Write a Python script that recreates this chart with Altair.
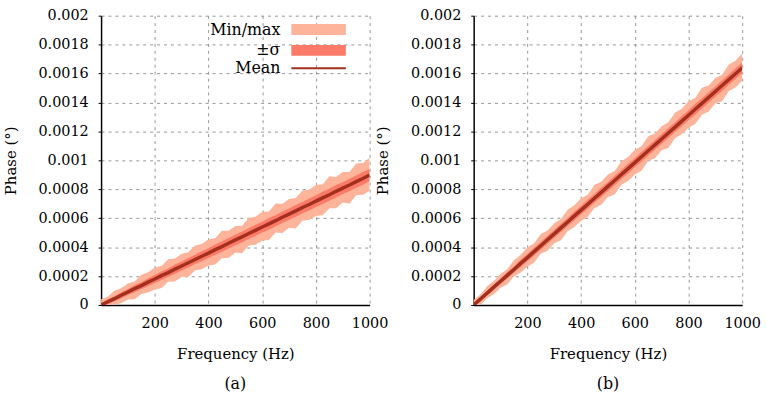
import altair as alt
import pandas as pd

# Frequency samples (Hz)
freq = [0, 25, 50, 75, 100, 125, 150, 175, 200, 225, 250, 275, 300, 325, 350,
        375, 400, 425, 450, 475, 500, 525, 550, 575, 600, 625, 650, 675, 700,
        725, 750, 775, 800, 825, 850, 875, 900, 925, 950, 975, 1000]

# Panel (a): mean, standard deviation, min and max of the phase (degrees)
a_mean = [0, 23e-6, 44e-6, 68e-6, 90e-6, 113e-6, 134e-6, 158e-6, 180e-6, 203e-6,
          224e-6, 248e-6, 270e-6, 292e-6, 315e-6, 337e-6, 359e-6, 383e-6, 404e-6,
          427e-6, 450e-6, 471e-6, 494e-6, 516e-6, 539e-6, 561e-6, 583e-6, 607e-6,
          628e-6, 651e-6, 674e-6, 695e-6, 718e-6, 741e-6, 762e-6, 786e-6, 808e-6,
          830e-6, 853e-6, 875e-6, 898e-6]
a_sd = [14e-6, 17e-6, 17e-6, 21e-6, 21e-6, 25e-6, 24e-6, 28e-6, 28e-6, 30e-6, 29e-6,
        32e-6, 31e-6, 33e-6, 32e-6, 35e-6, 34e-6, 36e-6, 35e-6, 37e-6, 36e-6, 38e-6,
        36e-6, 39e-6, 37e-6, 40e-6, 38e-6, 40e-6, 39e-6, 41e-6, 39e-6, 42e-6, 40e-6,
        42e-6, 41e-6, 43e-6, 41e-6, 43e-6, 42e-6, 44e-6, 43e-6]
a_min = [-36e-6, -24e-6, 4e-6, 12e-6, 38e-6, 40e-6, 77e-6, 86e-6, 108e-6, 117e-6,
         161e-6, 162e-6, 195e-6, 193e-6, 241e-6, 248e-6, 273e-6, 280e-6, 324e-6,
         326e-6, 363e-6, 358e-6, 411e-6, 416e-6, 444e-6, 449e-6, 502e-6, 498e-6,
         535e-6, 529e-6, 584e-6, 588e-6, 615e-6, 620e-6, 669e-6, 669e-6, 709e-6,
         700e-6, 758e-6, 762e-6, 790e-6]
a_max = [40e-6, 59e-6, 99e-6, 116e-6, 148e-6, 163e-6, 209e-6, 226e-6, 260e-6, 269e-6,
         316e-6, 321e-6, 354e-6, 364e-6, 412e-6, 422e-6, 455e-6, 461e-6, 514e-6,
         513e-6, 547e-6, 548e-6, 603e-6, 611e-6, 645e-6, 647e-6, 702e-6, 700e-6,
         733e-6, 740e-6, 792e-6, 797e-6, 832e-6, 833e-6, 890e-6, 885e-6, 919e-6,
         919e-6, 978e-6, 982e-6, 1018e-6]

# Panel (b)
b_mean = [0, 41e-6, 82e-6, 124e-6, 164e-6, 205e-6, 246e-6, 288e-6, 328e-6, 369e-6,
          410e-6, 451e-6, 492e-6, 533e-6, 574e-6, 616e-6, 656e-6, 697e-6, 738e-6,
          779e-6, 820e-6, 861e-6, 902e-6, 943e-6, 984e-6, 1025e-6, 1066e-6, 1107e-6,
          1148e-6, 1189e-6, 1230e-6, 1271e-6, 1312e-6, 1353e-6, 1394e-6, 1435e-6,
          1476e-6, 1517e-6, 1558e-6, 1599e-6, 1640e-6]
b_sd = [12e-6, 15e-6, 15e-6, 18e-6, 18e-6, 22e-6, 21e-6, 25e-6, 25e-6, 27e-6, 26e-6,
        28e-6, 27e-6, 29e-6, 28e-6, 30e-6, 29e-6, 31e-6, 30e-6, 32e-6, 31e-6, 33e-6,
        31e-6, 33e-6, 32e-6, 34e-6, 33e-6, 34e-6, 33e-6, 35e-6, 34e-6, 35e-6, 34e-6,
        36e-6, 35e-6, 36e-6, 35e-6, 37e-6, 36e-6, 37e-6, 36e-6]
b_min = [-32e-6, -1e-6, 47e-6, 75e-6, 119e-6, 142e-6, 197e-6, 225e-6, 265e-6, 293e-6,
         355e-6, 376e-6, 427e-6, 447e-6, 510e-6, 539e-6, 582e-6, 610e-6, 670e-6,
         693e-6, 746e-6, 764e-6, 832e-6, 858e-6, 903e-6, 929e-6, 997e-6, 1015e-6,
         1069e-6, 1086e-6, 1154e-6, 1181e-6, 1226e-6, 1251e-6, 1316e-6, 1337e-6,
         1393e-6, 1408e-6, 1479e-6, 1504e-6, 1550e-6]
b_max = [35e-6, 73e-6, 130e-6, 166e-6, 214e-6, 248e-6, 310e-6, 347e-6, 398e-6, 427e-6,
         491e-6, 515e-6, 565e-6, 595e-6, 658e-6, 689e-6, 738e-6, 763e-6, 832e-6,
         852e-6, 903e-6, 927e-6, 994e-6, 1023e-6, 1074e-6, 1098e-6, 1167e-6, 1185e-6,
         1236e-6, 1264e-6, 1330e-6, 1357e-6, 1408e-6, 1431e-6, 1501e-6, 1518e-6,
         1569e-6, 1591e-6, 1662e-6, 1689e-6, 1740e-6]

x_ticks = [200, 400, 600, 800, 1000]
y_ticks = [0, 0.0002, 0.0004, 0.0006, 0.0008, 0.001, 0.0012, 0.0014, 0.0016, 0.0018, 0.002]

band_names = ["Min/max", "±σ"]
band_colors = ["#FDB49A", "#FC7A68"]
mean_color = "#A3301E"

FONT = "DejaVu Serif"


def make_df(mean, sd, mn, mx):
    return pd.DataFrame({
        "freq": freq,
        "mean": mean,
        "sd_lo": [m - s for m, s in zip(mean, sd)],
        "sd_hi": [m + s for m, s in zip(mean, sd)],
        "min": mn,
        "max": mx,
        "band_mm": band_names[0],
        "band_sd": band_names[1],
        "kind": "Mean",
    })


def panel(df, label, show_legend):
    base = alt.Chart(df)
    x = alt.X("freq:Q", scale=alt.Scale(domain=[0, 1000], nice=False),
              axis=alt.Axis(values=x_ticks, format="d", title="Frequency (Hz)",
                            tickSize=0, labelPadding=12, titlePadding=16,
                            labelOverlap=False, labelFlush=False, tickCount=11))
    y_axis = alt.Axis(values=y_ticks, format="~g", title="Phase (°)", tickSize=3,
                      labelPadding=10, titlePadding=20, labelOverlap=False,
                      labelFlush=False, tickCount=12)
    yscale = alt.Scale(domain=[0, 0.002], nice=False)

    if show_legend:
        fill_legend = alt.Legend(
            title=None, orient="none", legendX=165, legendY=6,
            symbolType="M3.8,-1.1H14.8V1.1H3.8Z", symbolSize=100,
            symbolStrokeWidth=0, symbolOpacity=1,
            labelAlign="right", labelOffset=0, labelFont=FONT,
            labelFontSize=16, labelColor="black", rowPadding=5, padding=0)
        stroke_legend = alt.Legend(
            title=None, orient="none", legendX=165, legendY=45,
            symbolType="M3.8,0H14.8", symbolSize=100, symbolStrokeWidth=2,
            labelAlign="right", labelOffset=0, labelFont=FONT,
            labelFontSize=16, labelColor="black", padding=0)
    else:
        fill_legend = None
        stroke_legend = None

    fill_scale = alt.Scale(domain=band_names, range=band_colors)
    stroke_scale = alt.Scale(domain=["Mean"], range=[mean_color])

    minmax = base.mark_area(clip=True).encode(
        x=x,
        y=alt.Y("min:Q", scale=yscale, axis=y_axis),
        y2="max:Q",
        fill=alt.Fill("band_mm:N", scale=fill_scale, legend=fill_legend),
    )
    sigma = base.mark_area(clip=True).encode(
        x="freq:Q",
        y="sd_lo:Q",
        y2="sd_hi:Q",
        fill=alt.Fill("band_sd:N", scale=fill_scale, legend=fill_legend),
    )
    mean = base.mark_line(clip=True, strokeWidth=3.5).encode(
        x="freq:Q",
        y="mean:Q",
        stroke=alt.Stroke("kind:N", scale=stroke_scale, legend=stroke_legend),
    )
    return alt.layer(minmax, sigma, mean).properties(
        width=271, height=292,
        title=alt.TitleParams(label, orient="bottom", offset=15),
    )


chart_a = panel(make_df(a_mean, a_sd, a_min, a_max), "(a)", True)
chart_b = panel(make_df(b_mean, b_sd, b_min, b_max), "(b)", False)

chart = alt.hconcat(chart_a, chart_b, spacing=105, bounds="flush").resolve_scale(
    fill="independent", stroke="independent"
).resolve_legend(
    fill="independent", stroke="independent"
).properties(
    padding={"left": 3, "top": 6, "right": 5, "bottom": 5}
).configure_view(
    strokeWidth=0
).configure_axis(
    labelFont=FONT, labelFontSize=14.5, labelColor="black",
    titleFont=FONT, titleFontSize=15, titleFontWeight="normal", titleColor="black",
    domainColor="black", domainWidth=1.5, tickColor="black",
    gridColor="#8a8a8a", gridDash=[3, 4], gridWidth=0.9,
    labelFlush=False, labelOverlap=False,
).configure_title(
    font=FONT, fontSize=16, fontWeight="normal", color="black"
)

chart.save("out.html", embed_options={"renderer": "svg", "actions": False})
